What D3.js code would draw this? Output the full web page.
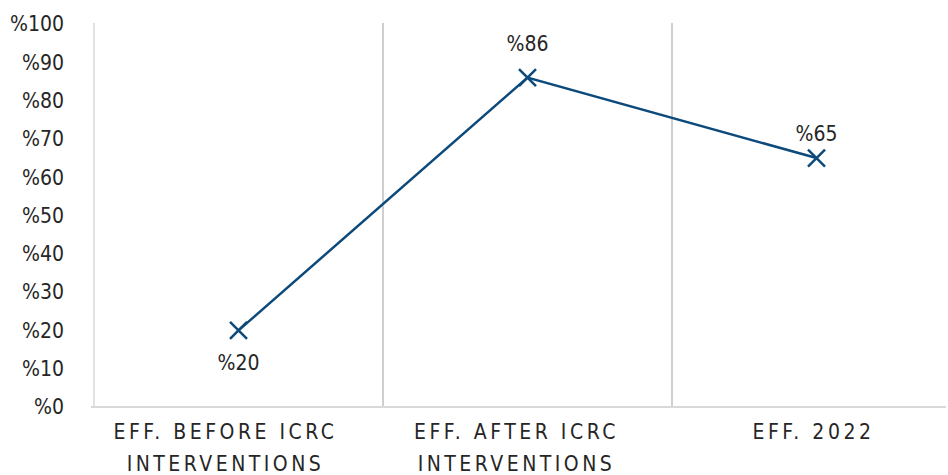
<!DOCTYPE html>
<html><head><meta charset="utf-8">
<script src="https://cdn.jsdelivr.net/npm/d3@7"></script>
<style>
body{margin:0;background:#fff;}
text{font-family:"Liberation Sans Narrow","DejaVu Sans Condensed","Roboto",sans-serif;fill:#262626;}
</style></head>
<body><svg id="c" width="948" height="475"></svg>
<script>
const categories = [["EFF. BEFORE ICRC","INTERVENTIONS"],["EFF. AFTER ICRC","INTERVENTIONS"],["EFF. 2022"]];
const values = [20, 86, 65];
const yTicks = [0,10,20,30,40,50,60,70,80,90,100];
const labelOffsets = [32, -34, -24];
const catLabelShift = [-13, -11, -3];

const svg = d3.select("#c");
const x = d3.scaleBand().domain(d3.range(categories.length)).range([94, 961]);
const y = d3.scaleLinear().domain([0,100]).range([407, 24]);
const color = "#0d4a7c";

const seps = d3.range(categories.length).map(i => x(i));
svg.selectAll("line.sep").data(seps).enter().append("line")
  .attr("x1", d=>d).attr("x2", d=>d).attr("y1", y(100)-1).attr("y2", y(0))
  .attr("stroke", (d,i)=> i===0 ? "#d9d9d9" : "#bfbfbf").attr("stroke-width", 1.5);

svg.append("line").attr("x1", 91).attr("x2", 946).attr("y1", y(0)).attr("y2", y(0))
  .attr("stroke", "#d9d9d9").attr("stroke-width", 2);

svg.selectAll("text.yt").data(yTicks).enter().append("text")
  .attr("x", 64).attr("y", d=>y(d)).attr("dy", "0.35em").attr("text-anchor","end")
  .style("font-size","21px").text(d=>"%"+d);

categories.forEach((lines,i)=>{
  lines.forEach((l,j)=>{
    svg.append("text").attr("x", x(i)+x.bandwidth()/2 + catLabelShift[i]).attr("y", 439 + j*32)
      .attr("text-anchor","middle").style("font-size","21px").style("letter-spacing","3.5px")
      .text(l);
  });
});

const line = d3.line().x((d,i)=>x(i)+x.bandwidth()/2).y(d=>y(d));
svg.append("path").datum(values).attr("d", line).attr("fill","none")
  .attr("stroke", color).attr("stroke-width", 2.5);

const s = 8.5;
values.forEach((v,i)=>{
  const cx = x(i)+x.bandwidth()/2, cy = y(v);
  svg.append("path").attr("d", `M${cx-s},${cy-s}L${cx+s},${cy+s}M${cx-s},${cy+s}L${cx+s},${cy-s}`)
    .attr("stroke", color).attr("stroke-width", 2.5).attr("fill","none");
  svg.append("text").attr("x", cx).attr("y", cy+labelOffsets[i]).attr("dy","0.35em")
    .attr("text-anchor","middle").style("font-size","21px").text("%"+v);
});
</script></body></html>
